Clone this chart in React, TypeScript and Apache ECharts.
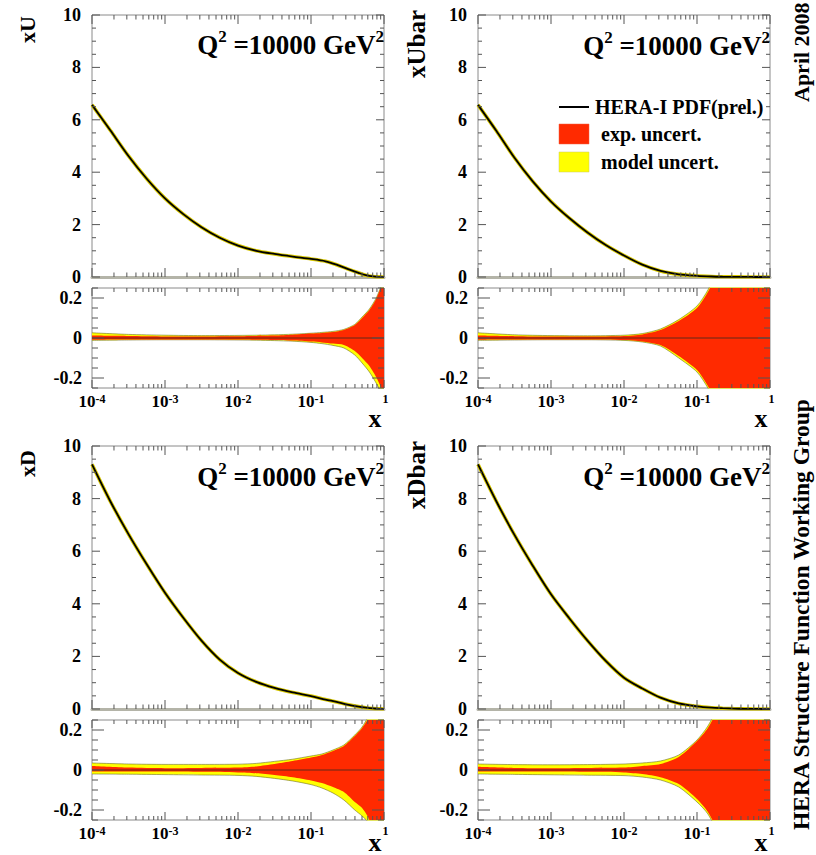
import React, { useEffect, useRef } from "react";
import * as echarts from "echarts";

const FONT = "'Liberation Serif', 'Times New Roman', serif";

// x sample points for the central curves
const curveX = [0.0001, 0.000178, 0.000316, 0.000562, 0.001, 0.00178, 0.00316, 0.00562, 0.01, 0.0178, 0.0316, 0.0562, 0.1, 0.158, 0.224, 0.316, 0.447, 0.562, 0.708, 0.85, 1.0];
const xU = [6.57, 5.6, 4.62, 3.75, 3.0, 2.4, 1.9, 1.5, 1.2, 1.0, 0.88, 0.78, 0.69, 0.6, 0.47, 0.31, 0.16, 0.07, 0.02, 0.005, 0];
const xUbar = [6.57, 5.58, 4.55, 3.65, 2.88, 2.25, 1.7, 1.22, 0.82, 0.47, 0.23, 0.1, 0.045, 0.02, 0.01, 0.005, 0.002, 0.001, 0, 0, 0];
const xD = [9.3, 7.9, 6.65, 5.5, 4.42, 3.47, 2.6, 1.88, 1.37, 1.03, 0.8, 0.63, 0.49, 0.36, 0.27, 0.17, 0.09, 0.05, 0.02, 0.008, 0];
const xDbar = [9.3, 7.9, 6.62, 5.45, 4.36, 3.45, 2.6, 1.83, 1.19, 0.78, 0.43, 0.21, 0.1, 0.05, 0.03, 0.015, 0.006, 0.003, 0.001, 0, 0];

// x sample points for the relative uncertainty bands
const bandX = [0.0001, 0.000316, 0.001, 0.00316, 0.01, 0.0178, 0.0316, 0.0562, 0.1, 0.141, 0.2, 0.282, 0.398, 0.501, 0.631, 0.794, 1.0];

const uExpUp = [0.012, 0.010, 0.008, 0.008, 0.009, 0.010, 0.012, 0.016, 0.022, 0.025, 0.030, 0.040, 0.065, 0.10, 0.14, 0.20, 0.30];
const uExpDn = [-0.009, -0.008, -0.007, -0.007, -0.008, -0.009, -0.010, -0.013, -0.018, -0.022, -0.028, -0.035, -0.065, -0.10, -0.14, -0.20, -0.28];
const uTotUp = [0.026, 0.018, 0.014, 0.012, 0.013, 0.014, 0.016, 0.019, 0.024, 0.028, 0.033, 0.043, 0.068, 0.105, 0.145, 0.205, 0.30];
const uTotDn = [-0.012, -0.010, -0.009, -0.009, -0.010, -0.011, -0.013, -0.016, -0.022, -0.028, -0.037, -0.050, -0.085, -0.125, -0.17, -0.23, -0.30];

const ubExpUp = [0.012, 0.009, 0.007, 0.007, 0.010, 0.018, 0.04, 0.085, 0.15, 0.23, 0.35, 0.5, 0.5, 0.5, 0.5, 0.5, 0.5];
const ubExpDn = [-0.009, -0.008, -0.007, -0.007, -0.010, -0.017, -0.035, -0.09, -0.16, -0.24, -0.35, -0.5, -0.5, -0.5, -0.5, -0.5, -0.5];
const ubTotUp = [0.026, 0.016, 0.012, 0.011, 0.014, 0.022, 0.045, 0.092, 0.16, 0.24, 0.36, 0.5, 0.5, 0.5, 0.5, 0.5, 0.5];
const ubTotDn = [-0.012, -0.010, -0.009, -0.009, -0.012, -0.020, -0.04, -0.10, -0.17, -0.25, -0.36, -0.5, -0.5, -0.5, -0.5, -0.5, -0.5];

const dExpUp = [0.02, 0.012, 0.009, 0.01, 0.012, 0.018, 0.03, 0.045, 0.062, 0.075, 0.095, 0.12, 0.17, 0.21, 0.27, 0.4, 0.4];
const dExpDn = [-0.008, -0.008, -0.008, -0.009, -0.012, -0.016, -0.025, -0.036, -0.052, -0.065, -0.085, -0.11, -0.16, -0.19, -0.25, -0.4, -0.4];
const dTotUp = [0.035, 0.03, 0.028, 0.028, 0.029, 0.033, 0.043, 0.054, 0.07, 0.08, 0.10, 0.125, 0.175, 0.215, 0.28, 0.4, 0.4];
const dTotDn = [-0.02, -0.021, -0.023, -0.025, -0.027, -0.032, -0.042, -0.055, -0.073, -0.09, -0.115, -0.15, -0.20, -0.23, -0.27, -0.4, -0.4];

const dbExpUp = [0.016, 0.01, 0.009, 0.01, 0.012, 0.02, 0.03, 0.065, 0.145, 0.21, 0.32, 0.5, 0.5, 0.5, 0.5, 0.5, 0.5];
const dbExpDn = [-0.008, -0.008, -0.008, -0.009, -0.012, -0.02, -0.036, -0.07, -0.145, -0.21, -0.32, -0.5, -0.5, -0.5, -0.5, -0.5, -0.5];
const dbTotUp = [0.03, 0.027, 0.026, 0.027, 0.03, 0.035, 0.045, 0.075, 0.15, 0.22, 0.33, 0.5, 0.5, 0.5, 0.5, 0.5, 0.5];
const dbTotDn = [-0.02, -0.022, -0.024, -0.026, -0.028, -0.035, -0.05, -0.085, -0.16, -0.22, -0.33, -0.5, -0.5, -0.5, -0.5, -0.5, -0.5];

const panelTitles = ["xU", "xUbar", "xD", "xDbar"];
const qLabel = "Q² =10000 GeV²";
const legendNames = ["HERA-I PDF(prel.)", "exp. uncert.", "model uncert."];

const mainYTicks = [0, 2, 4, 6, 8, 10];
const ratioYTicks = [-0.2, 0, 0.2];

const zip = (a: number[], b: number[]) => a.map((x, i) => [x, b[i]]);

export default function App() {
  const ref = useRef<HTMLDivElement>(null);
  useEffect(() => {
    if (!ref.current) return;
    const chart = echarts.init(ref.current, null, { renderer: "svg" });

    const curves = [xU, xUbar, xD, xDbar];
    const bands = [
      [uExpUp, uExpDn, uTotUp, uTotDn],
      [ubExpUp, ubExpDn, ubTotUp, ubTotDn],
      [dExpUp, dExpDn, dTotUp, dTotDn],
      [dbExpUp, dbExpDn, dbTotUp, dbTotDn],
    ];
    const cols = [92, 478];
    const rows = [
      { mainTop: 15, mainH: 262, ratioTop: 288, ratioH: 100 },
      { mainTop: 446, mainH: 263, ratioTop: 720, ratioH: 100 },
    ];
    const W = 292;

    // tick positions (axis decorations)
    const xMajor = [1e-4, 1e-3, 1e-2, 1e-1, 1];
    const xMinor: number[] = [];
    for (let k = -4; k < 0; k++) for (let m = 2; m <= 9; m++) xMinor.push(m * Math.pow(10, k));
    const mainYMinor: number[] = [];
    for (let v = 0.5; v < 10; v += 0.5) if (Math.abs(v / 2 - Math.round(v / 2)) > 1e-6) mainYMinor.push(v);
    const ratioYMinor: number[] = [];
    for (let k = -5; k <= 5; k++) {
      const v = k * 0.05;
      if (!ratioYTicks.some((t) => Math.abs(t - v) < 1e-6)) ratioYMinor.push(v);
    }

    const grids: any[] = [];
    const xAxes: any[] = [];
    const yAxes: any[] = [];
    const series: any[] = [];

    const labelBase = { color: "#000", fontFamily: FONT, fontWeight: "bold" };

    for (let p = 0; p < 4; p++) {
      const col = cols[p % 2];
      const row = rows[Math.floor(p / 2)];
      const gMain = grids.length;
      grids.push({ left: col, top: row.mainTop, width: W, height: row.mainH, show: true, borderColor: "#8a8a8a", borderWidth: 1, backgroundColor: "transparent", outerBoundsMode: "none", containLabel: false });
      const gRatio = grids.length;
      grids.push({ left: col, top: row.ratioTop, width: W, height: row.ratioH, show: true, borderColor: "#8a8a8a", borderWidth: 1, backgroundColor: "transparent", outerBoundsMode: "none", containLabel: false });

      // main axes
      xAxes.push({
        gridIndex: gMain, type: "log", logBase: 10, min: 1e-4, max: 1, splitNumber: 4,
        axisLine: { show: true, onZero: false, lineStyle: { color: "#b4b4a8", width: 3 } },
        axisTick: { show: false }, splitLine: { show: false }, axisLabel: { show: false },
      });
      yAxes.push({
        gridIndex: gMain, type: "value", min: 0, max: 10, interval: 2,
        axisLine: { show: false }, axisTick: { show: false }, splitLine: { show: false },
        axisLabel: { ...labelBase, fontSize: 18, margin: 11 },
      });
      // ratio axes
      xAxes.push({
        gridIndex: gRatio, type: "log", logBase: 10, min: 1e-4, max: 1, splitNumber: 4,
        axisLine: { show: false }, axisTick: { show: false }, splitLine: { show: false },
        axisLabel: {
          margin: 5,
          showMinLabel: true, showMaxLabel: true,
          formatter: (v: number) => {
            const e = Math.round(Math.log10(v));
            return e === 0 ? "{o|1}" : `{b|10}{s|${e}}`;
          },
          rich: {
            b: { ...labelBase, fontSize: 17, lineHeight: 17, verticalAlign: "bottom" },
            s: { ...labelBase, fontSize: 12, lineHeight: 12, verticalAlign: "top", padding: [0, 0, 9, 0] },
            o: { ...labelBase, fontSize: 12, lineHeight: 12, verticalAlign: "top", padding: [0, 0, 0, 3] },
          },
        },
      });
      yAxes.push({
        gridIndex: gRatio, type: "value", min: -0.25, max: 0.25, interval: 0.05,
        axisLine: { show: false }, axisTick: { show: false }, splitLine: { show: false },
        axisLabel: {
          ...labelBase, fontSize: 18, margin: 10,
          formatter: (v: number) => {
            const t = ratioYTicks.find((r) => Math.abs(r - v) < 1e-6);
            if (t === undefined) return "";
            return t === 0 ? "0" : String(t);
          },
        },
      });

      // central curve
      const cdata = zip(curveX, curves[p]);
      series.push({
        type: "line", xAxisIndex: gMain, yAxisIndex: gMain, data: cdata, symbol: "none", smooth: 0.3,
        lineStyle: { color: "#d8c800", width: 3.6 }, z: 2, silent: true,
      });
      series.push({
        name: legendNames[0], type: "line", xAxisIndex: gMain, yAxisIndex: gMain, data: cdata, symbol: "none", smooth: 0.3,
        lineStyle: { color: "#000", width: 1.8 }, z: 3, silent: true,
      });

      // bands
      const [eu, ed, tu, td] = bands[p];
      const bandSeries = (vals: number[], color: string, z: number, name: string, edge: boolean) => ({
        name, type: "line", xAxisIndex: gRatio, yAxisIndex: gRatio, data: zip(bandX, vals), symbol: "none", smooth: 0.25,
        lineStyle: edge ? { color: "rgba(110,110,40,0.75)", width: 0.8 } : { width: 0, color },
        itemStyle: { color },
        areaStyle: { color, opacity: 1, origin: "auto" }, z, silent: true,
      });
      series.push(bandSeries(tu, "#ffff00", 1, legendNames[2], true));
      series.push(bandSeries(td, "#ffff00", 1, legendNames[2], true));
      series.push(bandSeries(eu, "#ff2a00", 2, legendNames[1], false));
      series.push(bandSeries(ed, "#ff2a00", 2, legendNames[1], false));
      series.push({
        type: "line", xAxisIndex: gRatio, yAxisIndex: gRatio, data: [[1e-4, 0], [1, 0]], symbol: "none",
        lineStyle: { color: "#3a2a20", width: 0.8 }, z: 3, silent: true,
      });

      // ticks on all four sides
      const tickSeries = (g: number, yMaj: number[], yMin: number[], yLow: number, L: number[]) => {
        const data: number[][] = [];
        xMajor.forEach((v) => data.push([v, yLow, 0]));
        xMinor.forEach((v) => data.push([v, yLow, 1]));
        yMaj.forEach((v) => data.push([1e-4, v, 2]));
        yMin.forEach((v) => data.push([1e-4, v, 3]));
        return {
          type: "custom", xAxisIndex: g, yAxisIndex: g, data, z: 6, silent: true, clip: false,
          renderItem: (params: any, api: any) => {
            const cs = params.coordSys;
            const kind = api.value(2);
            const pt = api.coord([api.value(0), api.value(1)]);
            const style = { stroke: "#555", lineWidth: 1 };
            const len = L[kind];
            if (kind < 2) {
              return {
                type: "group", children: [
                  { type: "line", shape: { x1: pt[0], y1: cs.y + cs.height, x2: pt[0], y2: cs.y + cs.height - len }, style },
                  { type: "line", shape: { x1: pt[0], y1: cs.y, x2: pt[0], y2: cs.y + len }, style },
                ],
              };
            }
            return {
              type: "group", children: [
                { type: "line", shape: { x1: cs.x, y1: pt[1], x2: cs.x + len, y2: pt[1] }, style },
                { type: "line", shape: { x1: cs.x + cs.width, y1: pt[1], x2: cs.x + cs.width - len, y2: pt[1] }, style },
              ],
            };
          },
        };
      };
      series.push(tickSeries(gMain, mainYTicks, mainYMinor, 0, [9, 4.5, 8, 4]));
      series.push(tickSeries(gRatio, ratioYTicks, ratioYMinor, -0.25, [8, 4, 12, 6]));
    }

    const qRich = {
      q: { fontFamily: FONT, fontWeight: "bold", fontSize: 27, lineHeight: 31, verticalAlign: "bottom", fill: "#000", color: "#000" },
      s: { fontFamily: FONT, fontWeight: "bold", fontSize: 17, lineHeight: 17, verticalAlign: "top", fill: "#000", color: "#000" },
    };
    const qParts = qLabel.split("²");
    const qText = `{q|${qParts[0]}}{s|2}{q|${qParts[1]}}{s|2}`;
    const elements: any[] = [];
    const qPos = [[384, 43], [770, 44], [384, 475], [770, 475]];
    qPos.forEach(([x, y]) => {
      elements.push({ type: "text", x, y, z: 20, style: { text: qText, rich: qRich, align: "right", verticalAlign: "middle" } });
    });

    const txt = (text: string, x: number, y: number, size: number, extra: any = {}) => ({
      type: "text", x, y, z: 20, ...extra,
      style: { text, fontFamily: FONT, fontWeight: "bold", fontSize: size, fill: "#000", align: "left", verticalAlign: "middle", ...(extra.style || {}) },
    });

    // legend
    elements.push({ type: "line", z: 20, shape: { x1: 559, y1: 107, x2: 589, y2: 107 }, style: { stroke: "#000", lineWidth: 2 } });
    elements.push(txt(legendNames[0], 595, 107, 20));
    elements.push({ type: "rect", z: 20, shape: { x: 559, y: 124, width: 30, height: 20 }, style: { fill: "#ff2a00", stroke: "#f06040", lineWidth: 0.5 } });
    elements.push(txt(legendNames[1], 601, 134, 20));
    elements.push({ type: "rect", z: 20, shape: { x: 559, y: 152, width: 30, height: 20 }, style: { fill: "#ffff00", stroke: "#c8c860", lineWidth: 0.5 } });
    elements.push(txt(legendNames[2], 601, 162, 20));

    // y titles (rotated)
    const R = Math.PI / 2;
    elements.push(txt(panelTitles[0], 27, 43, 22, { rotation: R }));
    elements.push(txt(panelTitles[1], 416, 78, 25, { rotation: R }));
    elements.push(txt(panelTitles[2], 27, 477, 22, { rotation: R }));
    elements.push(txt(panelTitles[3], 416, 509, 25, { rotation: R }));

    // x titles
    [[375, 418], [761, 418], [375, 842], [761, 842]].forEach(([x, y]) => {
      elements.push(txt("x", x, y, 26, { style: { align: "center" } }));
    });

    // side texts
    elements.push(txt("April 2008", 801, 102, 22, { rotation: R }));
    elements.push(txt("HERA Structure Function Working Group", 801, 830, 23.5, { rotation: R }));

    chart.setOption({
      animation: false,
      backgroundColor: "#fff",
      grid: grids,
      xAxis: xAxes,
      yAxis: yAxes,
      series,
      graphic: { elements },
    });
    return () => chart.dispose();
  }, []);
  return <div ref={ref} style={{ position: "absolute", left: 0, top: 0, width: 816, height: 855 }} />;
}
